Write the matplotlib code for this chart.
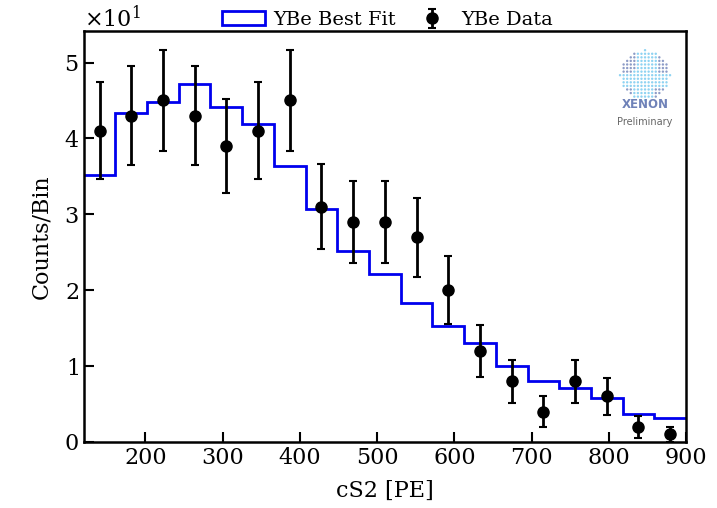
import numpy as np
import matplotlib.pyplot as plt
from matplotlib.patches import Rectangle
from matplotlib.ticker import ScalarFormatter

plt.rcParams['font.family'] = 'DejaVu Serif'
plt.rcParams['font.size'] = 16
plt.rcParams['mathtext.fontset'] = 'dejavuserif'

# bin edges in cS2 [PE]
bin_lo = 120
bin_hi = 900
n_bins = 19

# YBe data counts per bin
counts = [41, 43, 45, 43, 39, 41, 45, 31, 29, 29, 27, 20, 12, 8, 4, 8, 6, 2, 1]

# best fit counts per bin
fit = [35.2, 43.4, 44.8, 47.2, 44.2, 41.9, 36.4, 30.7, 25.2, 22.2,
       18.3, 15.3, 13.1, 10.0, 8.0, 7.1, 5.8, 3.7, 3.2]

edges = np.linspace(bin_lo, bin_hi, n_bins + 1)
centers = 0.5 * (edges[:-1] + edges[1:])
counts = np.array(counts)
errs = np.sqrt(counts)

fig = plt.figure(figsize=(7.17, 5.08), dpi=100)
ax = fig.add_axes([0.1167, 0.130, 0.8401, 0.8096])

ax.stairs(fit, edges, color='#0000ee', lw=2, baseline=None)
eb = ax.errorbar(centers, counts, yerr=errs, fmt='o', color='black',
                 ms=8, elinewidth=2, capsize=3, capthick=1.5)

ax.set_xlim(bin_lo, bin_hi)
ax.set_ylim(0, 54.2)
ax.set_xticks([200, 300, 400, 500, 600, 700, 800, 900])
ax.set_yticks([0, 10, 20, 30, 40, 50])
fmt = ScalarFormatter(useMathText=True)
fmt.set_powerlimits((0, 0))
ax.yaxis.set_major_formatter(fmt)
ax.yaxis.get_offset_text().set_fontsize(16)
ax.tick_params(direction='in', length=7, width=1.5, labelsize=16)
for s in ax.spines.values():
    s.set_linewidth(1.8)

ax.set_xlabel('cS2 [PE]', fontsize=16, labelpad=8)
ax.set_ylabel('Counts/Bin', fontsize=16, labelpad=8)

fit_handle = Rectangle((0, 0), 1, 1, facecolor='white', edgecolor='#0000ee', lw=2)
ax.legend([fit_handle, eb], ['YBe Best Fit', 'YBe Data'], ncol=2, frameon=False,
          loc='lower center', bbox_to_anchor=(0.505, 0.985), fontsize=14,
          handlelength=2.2, handletextpad=0.4, columnspacing=0.8, borderaxespad=0)

# XENON preliminary logo
logo = fig.add_axes([0.8996 - 0.0418, 0.852 - 0.059, 0.0837, 0.118])
logo.set_xlim(-1.2, 1.2)
logo.set_ylim(-1.2, 1.2)
logo.axis('off')
g = np.linspace(-1, 1, 15)
gx, gy = np.meshgrid(g, g)
inside = gx**2 + gy**2 <= 1.0
light = (np.abs(gx - 0.1 * gy) < 0.45) | (np.abs(gy + 0.2) < 0.25)
cols = np.where(light[inside], '#8fd3f2', '#8d9cc7')
logo.scatter(gx[inside], gy[inside], s=3, c=cols, lw=0)
fig.text(0.8996, 0.795, 'XENON', ha='center', va='center', fontsize=8.5,
         fontweight='bold', color='#6f82b8', family='DejaVu Sans')
fig.text(0.8996, 0.760, 'Preliminary', ha='center', va='center', fontsize=7,
         color='#666666', family='DejaVu Sans')

plt.savefig('out.png', dpi=100)
